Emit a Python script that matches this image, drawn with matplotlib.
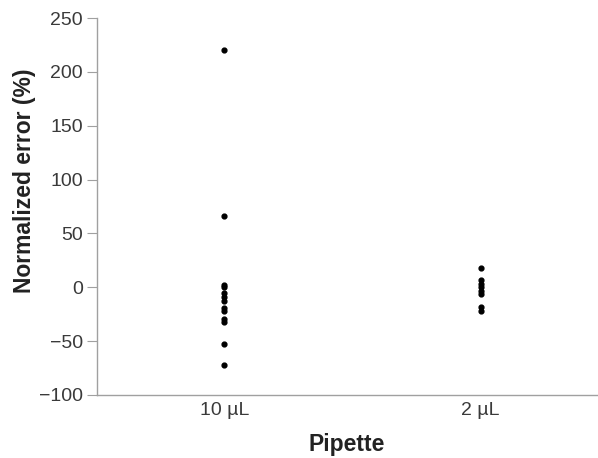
import matplotlib.pyplot as plt

plt.rcParams['font.family'] = ['Liberation Sans', 'DejaVu Sans']

pipettes = ["10 µL", "2 µL"]
err_10ul = [220, 66, 2, 0, -5, -9, -13, -19, -22, -29, -32, -53, -72]
err_2ul = [18, 7, 3, 0, -3, -6, -18, -22]

fig = plt.figure(figsize=(5.98, 4.58), dpi=100)
ax = fig.add_axes([0.162, 0.1376, 0.836, 0.823])

for i, vals in enumerate([err_10ul, err_2ul]):
    ax.scatter([i] * len(vals), vals, s=12, color="black", zorder=3)

ax.set_xlim(-0.497, 1.453)
ax.set_ylim(-100, 250)
ax.set_yticks(range(-100, 251, 50))
ax.set_yticklabels(["\u2212100", "\u221250", "0", "50", "100", "150", "200", "250"])
ax.set_xticks([0, 1])
ax.set_xticklabels(pipettes)

for s in ["top", "right"]:
    ax.spines[s].set_visible(False)
for s in ["left", "bottom"]:
    ax.spines[s].set_color("#a0a0a0")
    ax.spines[s].set_linewidth(1.0)

ax.tick_params(axis='y', direction="out", length=7, color="#a0a0a0", labelsize=14, labelcolor="#3a3a3a", pad=3)
ax.tick_params(axis='x', length=0, labelsize=14, labelcolor="#3a3a3a", pad=5)

ax.set_xlabel("Pipette", fontsize=16.5, fontweight="bold", color="#222222", labelpad=10)
ax.set_ylabel("Normalized error (%)", fontsize=16.5, fontweight="bold", color="#222222")
ax.yaxis.set_label_coords(-0.122, 0.568)

plt.savefig("out.png")
